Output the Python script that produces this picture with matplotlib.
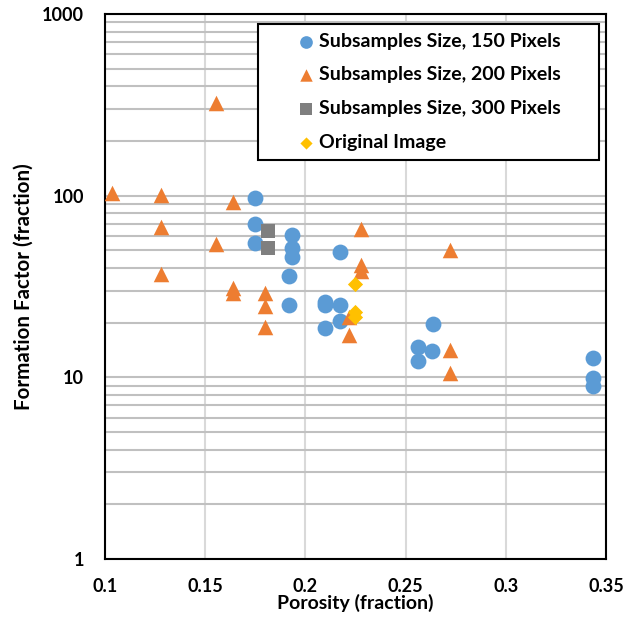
import numpy as np
import matplotlib
matplotlib.use("Agg")
import matplotlib.pyplot as plt
from matplotlib.ticker import FixedLocator, NullFormatter

# Subsamples Size, 150 Pixels
por_150 = [0.1747, 0.1747, 0.1747, 0.1934, 0.1934, 0.1934, 0.1917, 0.1917,
           0.2173, 0.2097, 0.2097, 0.2173, 0.2173, 0.2097, 0.2635, 0.2563,
           0.2563, 0.2633, 0.3437, 0.3437, 0.3437]
ff_150 = [96.6, 69.8, 54.6, 60.7, 51.3, 46.1, 36.1, 25.0,
          49.1, 26.1, 25.0, 25.0, 20.5, 18.6, 19.7, 14.7,
          12.3, 13.9, 12.8, 9.87, 8.96]

# Subsamples Size, 200 Pixels
por_200 = [0.1037, 0.1279, 0.1637, 0.1553, 0.1279, 0.1553, 0.1279, 0.1637,
           0.1637, 0.18, 0.18, 0.18, 0.2277, 0.272, 0.2277, 0.2277,
           0.222, 0.222, 0.272, 0.272]
ff_200 = [103.8, 100.4, 92.5, 324, 66.9, 54.2, 36.9, 31.0,
          29.1, 29.0, 24.6, 18.9, 65.3, 50.2, 41.5, 38.6,
          21.6, 17.1, 14.1, 10.6]

# Subsamples Size, 300 Pixels
por_300 = [0.1815, 0.1815]
ff_300 = [64.1, 51.3]

# Original Image
por_orig = [0.2249, 0.2249, 0.2249]
ff_orig = [32.5, 23.0, 21.6]

plt.rcParams['font.family'] = ['Lato', 'DejaVu Sans']
plt.rcParams['font.weight'] = 'bold'

fig = plt.figure(figsize=(6.26, 6.19), dpi=100)
ax = fig.add_axes([0.1677, 0.0969, 0.8003, 0.8805])

ax.scatter(por_150, ff_150, marker='o', s=130, color='#5b9bd5', linewidths=0,
           label='Subsamples Size, 150 Pixels', zorder=3)
ax.scatter(por_200, ff_200, marker='^', s=125, color='#ed7d31', linewidths=0,
           label='Subsamples Size, 200 Pixels', zorder=3)
ax.scatter(por_300, ff_300, marker='s', s=100, color='#7f7f7f', linewidths=0,
           label='Subsamples Size, 300 Pixels', zorder=3)
ax.scatter(por_orig, ff_orig, marker='D', s=60, color='#ffc000', linewidths=0,
           label='Original Image', zorder=3)

ax.set_yscale('log')
ax.set_xlim(0.1, 0.35)
ax.set_ylim(1, 1000)
ax.set_xticks([0.1, 0.15, 0.2, 0.25, 0.3, 0.35])
ax.set_xticklabels(['0.1', '0.15', '0.2', '0.25', '0.3', '0.35'])
ax.set_yticks([1, 10, 100, 1000])
ax.set_yticklabels(['1', '10', '100', '1000'])
minors = [m * 10 ** d for d in range(3) for m in range(2, 10)]
ax.yaxis.set_minor_locator(FixedLocator(minors))
ax.yaxis.set_minor_formatter(NullFormatter())
ax.tick_params(axis='both', which='both', length=0, labelsize=13)
ax.tick_params(axis='x', pad=14)
ax.tick_params(axis='y', pad=15)

ax.grid(True, axis='x', which='major', color='#d9d9d9', linewidth=1.5, zorder=0)
ax.grid(True, axis='y', which='both', color='#c0c0c0', linewidth=1.5, zorder=0)
ax.set_axisbelow(True)
for s in ax.spines.values():
    s.set_color('black')
    s.set_linewidth(1.5)

ax.set_xlabel('Porosity (fraction)', fontsize=14, fontweight='bold', labelpad=-1)
ax.set_ylabel('Formation Factor (fraction)', fontsize=14.8, fontweight='bold', labelpad=6)

leg = ax.legend(loc='upper left', bbox_to_anchor=(0.3054, 0.9817, 0.6806, 0.0),
                mode='expand', fontsize=14,
                frameon=True, fancybox=False, edgecolor='black', framealpha=1,
                handlelength=4, handletextpad=-1.3, labelspacing=0.86,
                borderpad=0.45, borderaxespad=0, markerscale=0.8)
leg.get_frame().set_linewidth(1.5)
for t in leg.get_texts():
    t.set_fontweight('bold')

fig.savefig('out.png', dpi=100)
